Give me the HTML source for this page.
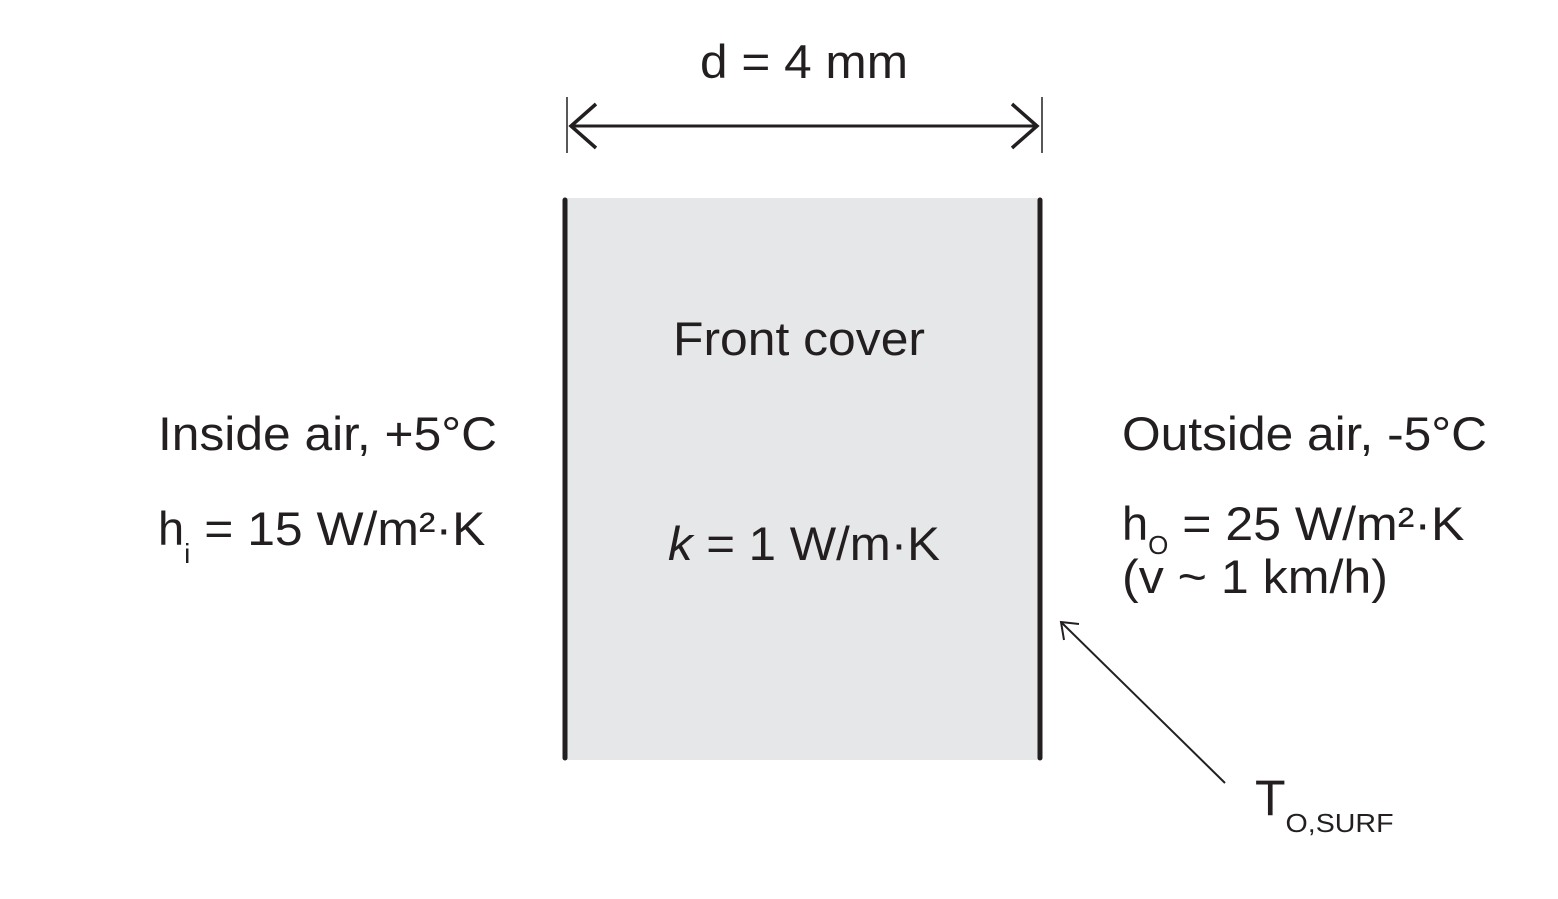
<!DOCTYPE html>
<html><head><meta charset="utf-8"><style>
body{margin:0;background:#fff}
svg{display:block}
text{font-family:"Liberation Sans",sans-serif;fill:#231f20}
</style></head><body>
<svg width="1558" height="899" viewBox="0 0 1558 899">
<rect x="565" y="198" width="475" height="562" fill="#e6e7e8"/>
<line x1="565" y1="200" x2="565" y2="758" stroke="#231f20" stroke-width="5" stroke-linecap="round"/>
<line x1="1040" y1="200" x2="1040" y2="758" stroke="#231f20" stroke-width="5" stroke-linecap="round"/>
<g stroke="#231f20" fill="none">
<line x1="567" y1="97" x2="567" y2="153" stroke-width="1.5"/>
<line x1="1042" y1="97" x2="1042" y2="153" stroke-width="1.5"/>
<line x1="570" y1="126" x2="1038" y2="126" stroke-width="3"/>
<polyline points="596,104 571,126 596,148" stroke-width="3.5"/>
<polyline points="1012,104 1037,126 1012,148" stroke-width="3.5"/>
</g>
<text x="700" y="78" font-size="47" textLength="208" lengthAdjust="spacingAndGlyphs">d = 4 mm</text>
<text x="673" y="355" font-size="47" textLength="252" lengthAdjust="spacingAndGlyphs">Front cover</text>
<text x="668" y="560" font-size="47" textLength="272" lengthAdjust="spacingAndGlyphs"><tspan font-style="italic">k</tspan> = 1 W/m·K</text>
<text x="158" y="450" font-size="47" textLength="339" lengthAdjust="spacingAndGlyphs">Inside air, +5°C</text>
<text x="158" y="545" font-size="47">h<tspan font-size="28" dy="18">i</tspan><tspan dy="-18" textLength="295" lengthAdjust="spacingAndGlyphs"> = 15 W/m²·K</tspan></text>
<text x="1122" y="450" font-size="47" textLength="365" lengthAdjust="spacingAndGlyphs">Outside air, -5°C</text>
<text x="1122" y="540" font-size="47">h<tspan font-size="26" dy="14">O</tspan><tspan dy="-14" textLength="296" lengthAdjust="spacingAndGlyphs"> = 25 W/m²·K</tspan></text>
<text x="1122" y="593" font-size="47" textLength="266" lengthAdjust="spacingAndGlyphs">(v ~ 1 km/h)</text>
<g stroke="#231f20" fill="none" stroke-width="2">
<line x1="1225" y1="783" x2="1062" y2="623"/>
<polyline points="1064,640 1061,622 1079,624"/>
</g>
<text x="1255" y="815" font-size="50">T<tspan font-size="26" dy="17" textLength="108" lengthAdjust="spacingAndGlyphs">O,SURF</tspan></text>
</svg>
</body></html>
